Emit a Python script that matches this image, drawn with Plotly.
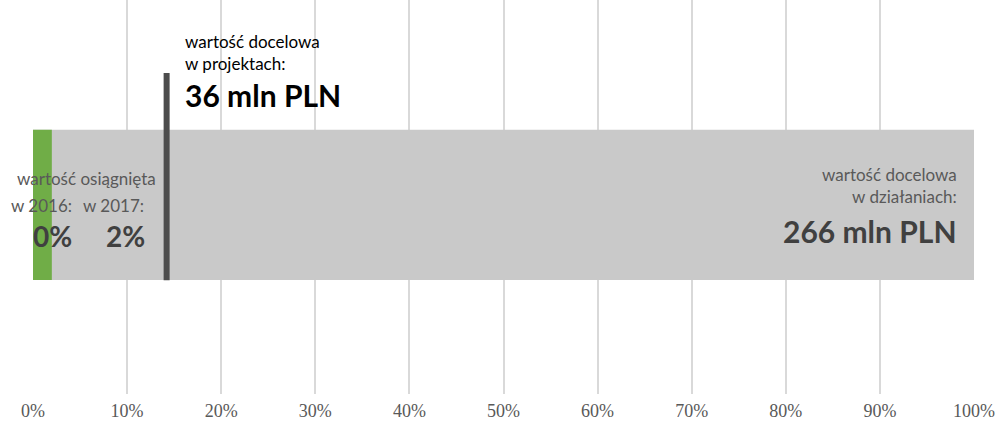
import plotly.graph_objects as go

# values as shares of the 266 mln PLN target in działania
bar_total = [1.0]
achieved_2016 = [0.0]
achieved_2017 = [0.02]
target_projects = 0.142
tick_vals = [i / 10 for i in range(11)]
tick_text = [f"{i * 10}%" for i in range(11)]

label_font = "Lato, 'Open Sans', sans-serif"
grey_text = "#595959"
dark_text = "#404040"

fig = go.Figure()

fig.add_trace(go.Bar(
    x=bar_total, y=[0.48], width=0.381, orientation="h",
    marker=dict(color="#c9c9c9", line=dict(width=0)), hoverinfo="skip",
))
fig.add_trace(go.Bar(
    x=achieved_2017, y=[0.48], width=0.381, orientation="h",
    marker=dict(color="#70ad47", line=dict(width=0)), hoverinfo="skip",
))
fig.add_trace(go.Scatter(
    x=[target_projects, target_projects], y=[0.289, 0.815], mode="lines",
    line=dict(color="#4d4d4d", width=6), hoverinfo="skip",
))

# labels for achieved values
fig.add_annotation(x=0, y=0.547, xref="x", yref="y", xshift=53, text="wartość osiągnięta",
                   showarrow=False, font=dict(family=label_font, size=17, color=grey_text))
fig.add_annotation(x=0, y=0.478, xref="x", yref="y", xshift=8, text="w 2016:",
                   showarrow=False, font=dict(family=label_font, size=17, color=grey_text))
fig.add_annotation(x=0, y=0.478, xref="x", yref="y", xshift=80, text="w 2017:",
                   showarrow=False, font=dict(family=label_font, size=17, color=grey_text))
fig.add_annotation(x=0, y=0.40, xref="x", yref="y", xshift=19,
                   text=f"<b>{achieved_2016[0] * 100:.0f}%</b>",
                   showarrow=False, font=dict(family=label_font, size=28, color=dark_text))
fig.add_annotation(x=0, y=0.40, xref="x", yref="y", xshift=92,
                   text=f"<b>{achieved_2017[0] * 100:.0f}%</b>",
                   showarrow=False, font=dict(family=label_font, size=28, color=dark_text))

# labels for project target
fig.add_annotation(x=target_projects, y=0.868, xref="x", yref="y", xshift=16, xanchor="left",
                   align="left", text="wartość docelowa<br>w projektach:",
                   showarrow=False, font=dict(family=label_font, size=17, color="#000000"))
fig.add_annotation(x=target_projects, y=0.76, xref="x", yref="y", xshift=16, xanchor="left",
                   text="<b>36 mln PLN</b>",
                   showarrow=False, font=dict(family=label_font, size=30, color="#000000"))

# labels for działania target
fig.add_annotation(x=bar_total[0], y=0.53, xref="x", yref="y", xshift=-15, xanchor="right",
                   align="right", text="wartość docelowa<br>w działaniach:",
                   showarrow=False, font=dict(family=label_font, size=17, color=grey_text))
fig.add_annotation(x=bar_total[0], y=0.413, xref="x", yref="y", xshift=-15, xanchor="right",
                   text="<b>266 mln PLN</b>",
                   showarrow=False, font=dict(family=label_font, size=30, color=dark_text))

fig.update_layout(
    width=997, height=425,
    margin=dict(l=33, r=23, t=0, b=31),
    paper_bgcolor="white", plot_bgcolor="white",
    barmode="overlay", showlegend=False,
    xaxis=dict(range=[0, 1], tickvals=tick_vals, ticktext=tick_text, showgrid=True,
               gridcolor="#d9d9d9", gridwidth=1.5, zeroline=False, showline=False,
               ticks="", ticklabelstandoff=4,
               tickfont=dict(family="'Liberation Serif', serif", size=18, color=grey_text),
               fixedrange=True),
    yaxis=dict(range=[0, 1], visible=False, fixedrange=True),
)

fig.write_html("out.html", config={"displayModeBar": False},
               post_script="document.body.style.margin='0';")
